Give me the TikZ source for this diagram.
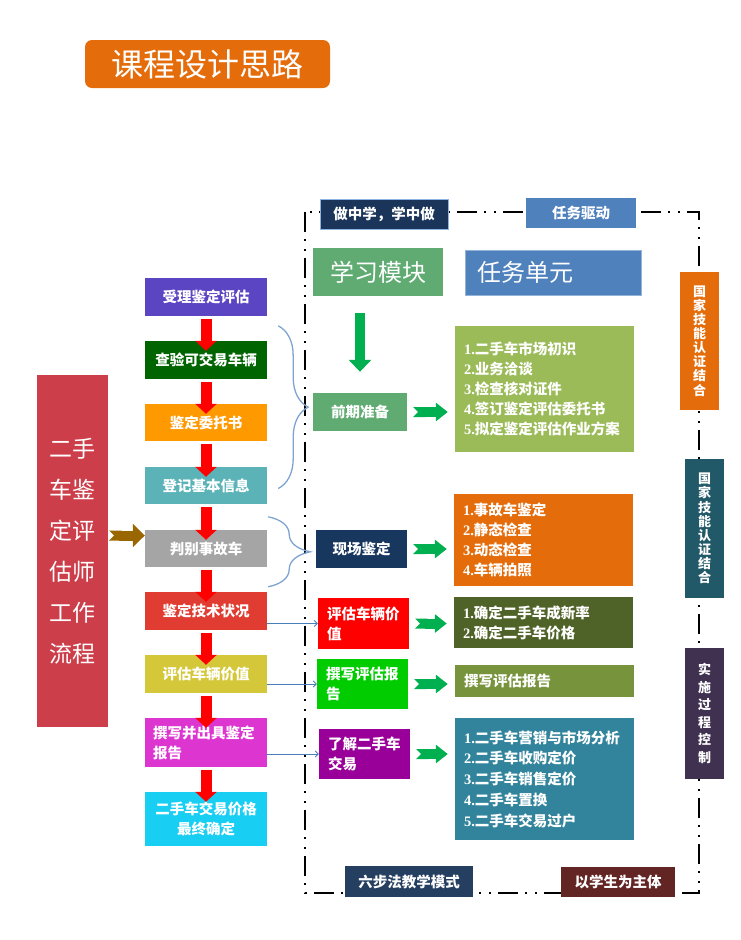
\documentclass[tikz,border=0pt]{standalone}
\usepackage{fontspec}
\setmainfont{Noto Sans CJK SC}
\newfontfamily\numfont{Liberation Serif}
\usepackage{tikz}
\usetikzlibrary{positioning,
                arrows.meta,                % arrow tips
                calc,                       % shifted anchors
                decorations.pathreplacing}  % braces

\definecolor{titleorange}{HTML}{E46C0A}
\definecolor{doingblue}{HTML}{1B355A}
\definecolor{doingedge}{HTML}{8EB4E3}
\definecolor{taskblue}{HTML}{4F81BD}
\definecolor{taskedge}{HTML}{95B3D7}
\definecolor{sixblue}{HTML}{243F60}
\definecolor{studentred}{HTML}{632523}
\definecolor{modgreen}{HTML}{5FAB72}
\definecolor{arrowgreen}{HTML}{00B050}
\definecolor{acceptc}{HTML}{5B45C3}
\definecolor{inspectc}{HTML}{006400}
\definecolor{entrustc}{HTML}{FF9900}
\definecolor{registerc}{HTML}{5BB3B8}
\definecolor{judgec}{HTML}{A5A5A5}
\definecolor{statusc}{HTML}{E03C31}
\definecolor{valuatec}{HTML}{D4C83A}
\definecolor{reportc}{HTML}{DC35D0}
\definecolor{finalc}{HTML}{18CEF2}
\definecolor{flowred}{HTML}{CC3E4A}
\definecolor{flowbrown}{HTML}{9A6600}
\definecolor{braceblue}{HTML}{7FA3D0}
\definecolor{lineblue}{HTML}{4A7EBB}
\definecolor{siteblue}{HTML}{17375E}
\definecolor{writegreen}{HTML}{00CC00}
\definecolor{tradepurple}{HTML}{990099}
\definecolor{tprepc}{HTML}{9BBB59}
\definecolor{tpricec}{HTML}{4F6228}
\definecolor{twritec}{HTML}{77933C}
\definecolor{ttradec}{HTML}{31849B}
\definecolor{certteal}{HTML}{215968}
\definecolor{ctrlpurple}{HTML}{403151}

\newcommand{\itemno}[1]{{\numfont\bfseries #1.}}

\tikzset{
  box/.style={text=white, inner sep=0pt, align=center,
              font=\bfseries\fontsize{14.5}{20}\selectfont},
  stepbox/.style={box, minimum width=122pt},
  midbox/.style={box, minimum width=91pt},
  taskbox/.style={box, align=left, minimum width=179pt, text width=161pt},
  vbox/.style={box, minimum width=39pt, font=\bfseries\fontsize{13}{14.1}\selectfont},
  frame/.style={line width=2.5pt, dash pattern=on 20pt off 7pt on 2pt off 8pt on 2pt off 7pt},
  redarrow/.style={draw=red, line width=11pt, -{Triangle[width=21pt,length=10pt]},
                   shorten <=3pt, shorten >=-10pt},
  garrow/.style={draw=arrowgreen, line width=10pt,
                 {Triangle Cap[reversed]}-{Triangle[width=18pt,length=12pt]},
                 shorten <=6pt, shorten >=7pt},
  gdown/.style={draw=arrowgreen, line width=10pt, -{Triangle[width=22pt,length=12pt]},
                shorten <=17pt, shorten >=21pt},
  barrow/.style={draw=flowbrown, line width=10pt,
                 {Triangle Cap[reversed]}-{Triangle[width=23pt,length=12pt]},
                 shorten <=1pt},
  brace/.style={draw=braceblue, line width=1.3pt, decorate,
                decoration={brace, amplitude=#1}},
  link/.style={draw=lineblue, line width=0.8pt, -{Straight Barb[length=3pt,width=6pt]}}
}

\begin{document}
\begin{tikzpicture}[x=1pt, y=-1pt]
        \useasboundingbox (0,0) rectangle (740,940);

        \node[box, fill=titleorange, rounded corners=7pt, minimum width=245pt, minimum height=48pt,
              font=\fontsize{32}{32}\selectfont] (title) at (207.5,64) {课程设计思路};

        \draw[frame] (305,212) rectangle (699,893);

        \node[box, fill=doingblue, draw=doingedge, line width=0.8pt, minimum width=128pt,
              minimum height=30pt] (doing) at (384,214) {做中学，学中做};
        \node[box, fill=taskblue, minimum width=110pt, minimum height=30pt] (drive) at (581,213) {任务驱动};
        \node[box, fill=sixblue, minimum width=128pt, minimum height=31pt] (sixstep) at (409,881.5) {六步法教学模式};
        \node[box, fill=studentred, minimum width=114pt, minimum height=30pt] (student) at (618,882) {以学生为主体};

        \node[box, fill=modgreen, minimum width=130pt, minimum height=48pt,
              font=\fontsize{24}{24}\selectfont] (learn) at (378,272) {学习模块};
        \node[box, fill=taskblue, draw=taskedge, minimum width=176pt, minimum height=45pt,
              text width=152pt, align=left, font=\fontsize{24}{24}\selectfont] (unit) at (553,272.5) {任务单元};

        \node[box, fill=flowred, minimum width=71pt, minimum height=352pt,
              font=\fontsize{23}{41}\selectfont] (flow) at (72.5,551) {二手\\车鉴\\定评\\估师\\工作\\流程};

        \node[stepbox, fill=acceptc, minimum height=38pt] (accept) at (206,297) {受理鉴定评估};
        \node[stepbox, fill=inspectc, minimum height=38pt] (inspect) at (206,360) {查验可交易车辆};
        \node[stepbox, fill=entrustc, minimum height=37pt] (entrust) at (206,422.5) {鉴定委托书};
        \node[stepbox, fill=registerc, minimum height=37pt] (register) at (206,485.5) {登记基本信息};
        \node[stepbox, fill=judgec, minimum height=37pt] (judge) at (206,548.5) {判别事故车};
        \node[stepbox, fill=statusc, minimum height=38pt] (status) at (206,611) {鉴定技术状况};
        \node[stepbox, fill=valuatec, minimum height=38pt] (valuate) at (206,674) {评估车辆价值};
        \node[stepbox, fill=reportc, minimum height=49pt, text width=106pt, align=left] (report) at (206,742.5) {撰写并出具鉴定\\报告};
        \node[stepbox, fill=finalc, minimum height=54pt] (final) at (206,819) {二手车交易价格\\最终确定};

        \node[midbox, fill=modgreen, minimum width=94pt, minimum height=38pt] (prep) at (360,412) {前期准备};
        \node[midbox, fill=siteblue, minimum height=38pt] (site) at (361.5,549) {现场鉴定};
        \node[midbox, fill=red, minimum height=51pt, text width=73pt, align=left] (price) at (363.5,623.5) {评估车辆价\\值};
        \node[midbox, fill=writegreen, minimum height=50pt, text width=73pt, align=left] (write) at (362.5,684) {撰写评估报\\告};
        \node[midbox, fill=tradepurple, minimum height=50pt, text width=73pt, align=left] (trade) at (364.5,754) {了解二手车\\交易};

        \node[taskbox, fill=tprepc, minimum height=126pt] (tprep) at (544.5,389)
              {\itemno{1}二手车市场初识\\\itemno{2}业务洽谈\\\itemno{3}检查核对证件\\\itemno{4}签订鉴定评估委托书\\\itemno{5}拟定鉴定评估作业方案};
        \node[taskbox, fill=titleorange, minimum height=92pt] (tsite) at (543.5,540)
              {\itemno{1}事故车鉴定\\\itemno{2}静态检查\\\itemno{3}动态检查\\\itemno{4}车辆拍照};
        \node[taskbox, fill=tpricec, minimum height=51pt] (tprice) at (543.5,622.5)
              {\itemno{1}确定二手车成新率\\\itemno{2}确定二手车价格};
        \node[taskbox, fill=twritec, minimum height=32pt] (twrite) at (544.5,681) {撰写评估报告};
        \node[taskbox, fill=ttradec, minimum height=122pt, font=\bfseries\fontsize{14.5}{20.75}\selectfont] (ttrade) at (544.5,779)
              {\itemno{1}二手车营销与市场分析\\\itemno{2}二手车收购定价\\\itemno{3}二手车销售定价\\\itemno{4}二手车置换\\\itemno{5}二手车交易过户};

        \node[vbox, fill=titleorange, minimum height=138pt] (cert) at (699.5,341) {国\\家\\技\\能\\认\\证\\结\\合};
        \node[vbox, fill=certteal, minimum height=139pt] (certb) at (704.5,528.5) {国\\家\\技\\能\\认\\证\\结\\合};
        \node[vbox, fill=ctrlpurple, minimum height=131pt, font=\bfseries\fontsize{13}{17.5}\selectfont] (control) at (704.5,713.5) {实\\施\\过\\程\\控\\制};

        \foreach \a/\b in {accept/inspect, inspect/entrust, entrust/register, register/judge,
                           judge/status, status/valuate, valuate/report, report/final}
        { \draw[redarrow] (\a.south) -- (\b.north);
        };

        \foreach \m/\t in {prep/tprep, site/tsite, price/tprice, write/twrite, trade/ttrade}
        { \draw[garrow] (\m.east) -- (\m.east -| \t.west);
        };

        \draw[gdown] (learn.south -| prep.north) -- (prep.north);

        \coordinate (flowin) at ($(judge.west)+(0,-13)$);
        \draw[barrow] (flowin -| flow.east) -- (flowin);

        \draw[brace=30pt] ($(inspect.north east)+(11,-15)$) -- ($(register.east)+(11,3)$);
        \draw[brace=42pt] ($(judge.north east)+(1,-13)$) -- ($(status.north east)+(1,-5)$);

        \draw[link] (status.east |- price.west) -- (price.west);
        \draw[link] (valuate.east |- write.west) -- (write.west);
        \draw[link] (report.east |- trade.west) -- (trade.west);

\end{tikzpicture}
\end{document}
